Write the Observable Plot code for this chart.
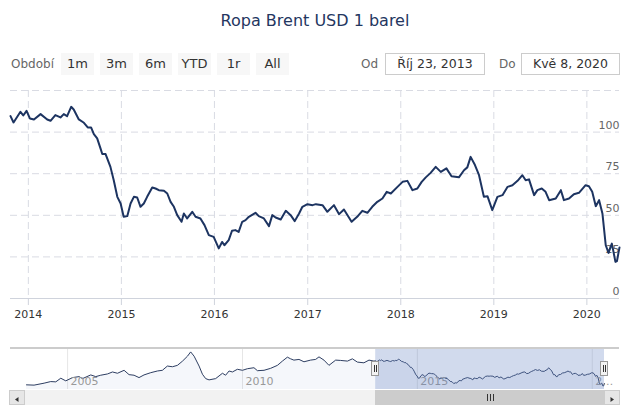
<!DOCTYPE html>
<html><head><meta charset="utf-8">
<script src="https://cdn.jsdelivr.net/npm/d3@7"></script>
<script src="https://cdn.jsdelivr.net/npm/@observablehq/plot@0.6"></script>
<style>
body{margin:0;background:#fff;font-family:"DejaVu Sans",sans-serif;}
#wrap{position:relative;width:630px;height:420px;overflow:hidden;background:#fff;}
.abs{position:absolute;}
#title{left:0;width:630px;top:9px;text-align:center;font-size:16px;color:#24365f;line-height:24px;}
.lbl{font-size:12px;color:#666;line-height:22px;top:53px;}
#btns{left:61px;top:53px;display:flex;gap:6px;}
.btn{width:33px;height:21.5px;background:#f7f7f7;color:#333;font-size:13px;line-height:21.5px;text-align:center;}
.inp{top:53px;height:21.5px;box-sizing:border-box;border:1px solid #ccc;font-size:12.5px;color:#333;line-height:19.5px;text-align:center;}
#mainc{left:0;top:80px;}
#navc{left:0;top:340px;}
#outline{left:10px;top:347px;width:609px;height:1.5px;background:#ccc;}
#track{left:9px;top:389.5px;width:610px;height:15px;background:#f2f2f2;}
.sbtn{top:389.5px;width:16px;height:15px;box-sizing:border-box;border:1px solid #ccc;background:#e6e6e6;}
.thumb{top:389.5px;height:15px;background:#cccccc;}
.grip{position:absolute;top:4px;width:1px;height:7px;background:#333;}
.handle{top:361px;width:8px;height:15px;box-sizing:border-box;border:1px solid #999;background:#f2f2f2;}
.hl{position:absolute;top:3px;width:1px;height:7px;background:#333;}
</style></head><body><div id="wrap"></div>
<script>
const titleText = "Ropa Brent USD 1 barel";
const rangeLabel = "Období";
const rangeButtons = ["1m","3m","6m","YTD","1r","All"];
const fromLabel = "Od", toLabel = "Do";
const fromText = "Říj 23, 2013", toText = "Kvě 8, 2020";

const dates = ["2013-10-23","2013-11-04","2013-12-01","2013-12-12","2013-12-25","2014-01-07","2014-01-23","2014-02-18","2014-03-16","2014-03-29","2014-04-17","2014-05-07","2014-05-20","2014-06-02","2014-06-18","2014-06-28","2014-07-18","2014-08-07","2014-08-22","2014-09-04","2014-09-15","2014-09-28","2014-10-11","2014-10-18","2014-10-31","2014-11-19","2014-12-02","2014-12-16","2014-12-29","2015-01-10","2015-01-24","2015-02-06","2015-02-19","2015-03-04","2015-03-17","2015-03-30","2015-04-12","2015-05-02","2015-05-15","2015-05-28","2015-06-17","2015-06-30","2015-07-13","2015-07-26","2015-08-08","2015-08-25","2015-09-03","2015-09-16","2015-10-06","2015-10-19","2015-11-07","2015-11-23","2015-12-10","2015-12-29","2016-01-18","2016-01-31","2016-02-09","2016-02-26","2016-03-10","2016-03-23","2016-04-05","2016-04-19","2016-05-02","2016-05-15","2016-06-10","2016-06-23","2016-07-13","2016-08-02","2016-08-15","2016-08-28","2016-09-17","2016-10-07","2016-10-26","2016-11-11","2016-11-28","2016-12-11","2016-12-31","2017-01-20","2017-02-02","2017-02-28","2017-03-19","2017-04-14","2017-05-04","2017-05-23","2017-06-22","2017-07-14","2017-08-03","2017-08-23","2017-09-11","2017-10-01","2017-10-21","2017-11-07","2017-11-23","2017-12-19","2018-01-08","2018-01-27","2018-02-16","2018-03-07","2018-03-24","2018-04-09","2018-04-28","2018-05-18","2018-06-07","2018-06-29","2018-07-19","2018-08-17","2018-09-06","2018-09-19","2018-10-02","2018-10-19","2018-11-04","2018-11-23","2018-12-07","2018-12-26","2019-01-15","2019-02-04","2019-02-24","2019-03-15","2019-04-04","2019-04-23","2019-05-06","2019-05-19","2019-06-08","2019-06-21","2019-07-08","2019-07-23","2019-08-06","2019-09-01","2019-09-21","2019-10-03","2019-10-23","2019-11-11","2019-12-01","2019-12-27","2020-01-09","2020-01-22","2020-02-05","2020-02-18","2020-03-02","2020-03-15","2020-03-26","2020-04-03","2020-04-08","2020-04-12","2020-04-22","2020-04-28","2020-05-08"];
const values = [109.6,105.8,112.2,110.0,112.8,108.2,107.6,110.8,107.6,106.8,110.2,108.8,110.8,109.6,115.2,113.6,107.6,105.6,102.8,102.8,98.8,96.2,90.2,86.8,86.8,79.1,71.1,61.1,57.1,49.1,49.5,57.1,61.1,60.7,55.1,57.1,61.1,66.7,66.1,65.1,64.7,63.1,58.1,55.1,50.1,46.1,51.1,48.1,52.1,49.1,48.1,44.1,38.1,37.0,30.1,34.0,32.0,35.1,40.7,41.1,40.0,46.1,47.1,49.1,51.5,49.5,48.1,43.5,50.1,48.7,47.5,52.7,50.1,46.5,51.1,55.1,56.7,56.1,56.7,56.1,52.1,56.1,50.7,53.5,46.1,49.1,52.7,51.5,55.1,58.1,60.1,64.1,63.1,67.1,70.1,70.7,65.1,66.1,70.1,72.8,75.5,79.1,76.1,78.2,73.5,72.8,77.1,78.8,85.1,80.2,74.1,61.1,61.5,53.1,61.1,62.1,67.1,68.1,70.7,74.1,71.1,71.6,62.1,65.1,66.1,64.1,59.1,60.1,65.1,59.1,60.1,62.7,63.5,68.1,67.5,64.1,55.5,59.1,51.1,32.0,27.4,31.0,33.0,30.0,22.0,22.5,30.7];

const histDates = ["2003-10-30","2004-01-17","2004-05-01","2004-07-09","2004-08-31","2004-10-22","2004-12-13","2005-02-22","2005-05-01","2005-06-06","2005-08-31","2005-10-22","2005-12-13","2006-02-22","2006-04-15","2006-06-06","2006-08-14","2006-10-05","2006-11-26","2007-01-17","2007-03-10","2007-05-19","2007-07-28","2007-09-18","2007-11-09","2008-01-01","2008-02-22","2008-04-15","2008-06-06","2008-07-09","2008-08-14","2008-10-05","2008-11-09","2008-12-13","2009-01-17","2009-03-27","2009-06-06","2009-07-09","2009-08-14","2009-09-18","2009-11-09","2010-01-01","2010-02-22","2010-05-01","2010-06-06","2010-08-14","2010-10-22","2011-01-01","2011-02-22","2011-04-15","2011-05-19","2011-06-22","2011-08-14","2011-10-05","2011-12-13","2012-02-04","2012-03-10","2012-05-01","2012-06-22","2012-08-31","2012-10-22","2013-01-01","2013-02-22","2013-04-15","2013-06-22","2013-08-14","2013-10-05"];
const histValues = [26.3,25.3,32.1,37.6,36.6,49.2,40.0,51.3,54.7,47.8,60.5,54.7,59.5,63.9,70.7,66.3,76.5,61.5,59.5,51.3,60.5,68.3,74.1,76.5,91.2,88.8,93.6,108.3,125.3,140.0,125.3,91.2,62.9,47.8,43.4,47.8,66.3,59.5,74.1,70.7,80.0,76.5,82.0,85.4,75.2,76.5,83.3,93.6,108.3,121.9,116.1,111.7,114.1,105.9,111.7,114.1,122.9,111.7,93.6,111.7,110.6,108.3,116.1,104.8,102.4,111.7,108.3];

const yTicks = [0,25,50,75,100];
const yGrid = [25,50,75,100,125];
const yDomain = [0,125];
const yearTicks = [2014,2015,2016,2017,2018,2019,2020];
const navYears = [2005,2010,2015,2020];

const wrap = document.getElementById("wrap");
function el(cls, css, text, parent){const d=document.createElement("div");d.className=cls;if(css)d.style.cssText=css;if(text!=null)d.textContent=text;(parent||wrap).appendChild(d);return d;}

el("abs","",titleText).id="title";
el("abs lbl","left:11px;",rangeLabel);
const btns = el("abs","",null); btns.id="btns";
rangeButtons.forEach(b=>el("btn","",b,btns));
el("abs lbl","left:361px;",fromLabel);
el("abs inp","left:385px;width:100px;",fromText);
el("abs lbl","left:499px;",toLabel);
el("abs inp","left:521px;width:99px;",toText);

const data = dates.map((d,i)=>({date:new Date(d), value:values[i]}));
const xDomain = [data[0].date, data[data.length-1].date];
const yearDates = yearTicks.map(y=>new Date(Date.UTC(y,0,1)));
const grid = {stroke:"#d9dbe3", strokeOpacity:1, strokeDasharray:"7,4"};

const main = Plot.plot({
  width:630, height:240, marginTop:10, marginBottom:22, marginLeft:10, marginRight:11,
  x:{type:"utc", domain:xDomain},
  y:{domain:yDomain},
  style:{fontFamily:"DejaVu Sans", fontSize:"11px", background:"transparent", overflow:"visible"},
  marks:[
    Plot.gridY(yGrid, grid),
    Plot.gridX(yearDates, grid),
    Plot.ruleY([0],{stroke:"#cfd3dc"}),
    Plot.axisX(yearDates,{tickSize:7, tickPadding:5, stroke:"#cfd3dc", fill:"#333", tickFormat:d3.utcFormat("%Y"), fontSize:11, label:null}),
    Plot.axisY(yTicks,{anchor:"right", tickSize:0, tickPadding:0, textAnchor:"end", dy:-7, fill:"#666", fontSize:11, label:null}),
    Plot.line(data,{x:"date", y:"value", stroke:"#1d3461", strokeWidth:2})
  ]
});
const mc = el("abs",null,null); mc.id="mainc"; mc.appendChild(main);

const navData = histDates.map((d,i)=>({date:new Date(d), value:histValues[i]})).concat(data);
const vmin = d3.min(navData,d=>d.value), vmax = d3.max(navData,d=>d.value);
const pad = (vmax-vmin)*0.1;
const navY = [vmin-pad, vmax+pad];
const navYearDates = navYears.map(y=>new Date(Date.UTC(y,0,1)));
const navFmt = d => d.getUTCFullYear()===2020 ? "2…" : String(d.getUTCFullYear());

const nav = Plot.plot({
  width:630, height:50, marginTop:8, marginBottom:1, marginLeft:26, marginRight:26,
  x:{type:"utc", domain:[navData[0].date, xDomain[1]], axis:null},
  y:{domain:navY, axis:null},
  style:{fontFamily:"DejaVu Sans", fontSize:"11px", background:"transparent", overflow:"visible"},
  marks:[
    Plot.gridX(navYearDates,{stroke:"#e6e6e6", strokeOpacity:1}),
    Plot.areaY(navData,{x:"date", y1:navY[0], y2:"value", fill:"#335cad", fillOpacity:0.05}),
    Plot.line(navData,{x:"date", y:"value", stroke:"#2f3f62", strokeWidth:1}),
    Plot.text(navYearDates,{x:d=>d, text:navFmt, frameAnchor:"bottom", textAnchor:"start", lineAnchor:"middle", dx:3, dy:-8, fill:"#999", fontSize:11}),
    Plot.rect([{a:xDomain[0], b:xDomain[1]}],{x1:"a", x2:"b", fill:"rgb(102,133,194)", fillOpacity:0.3})
  ]
});
const nc = el("abs",null,null); nc.id="navc"; nc.appendChild(nav);

el("abs","",null).id="outline";
el("abs","",null).id="track";
const sx = nav.scale("x");
const x0 = sx.apply(xDomain[0]), x1 = sx.apply(xDomain[1]);
const thumb = el("abs thumb",`left:${x0}px;width:${605-x0}px;`,null);
const gc = (605-x0)/2;
[-3,0,3].forEach(o=>el("grip",`left:${gc+o-0.5}px;`,null,thumb));
const lb = el("abs sbtn","left:9px;",null);
const rb = el("abs sbtn","left:604px;",null);
lb.innerHTML='<svg width="14" height="13"><path d="M8.5,4 L5,6.5 L8.5,9 Z" fill="#333"/></svg>';
rb.innerHTML='<svg width="14" height="13"><path d="M5.5,4 L9,6.5 L5.5,9 Z" fill="#333"/></svg>';
[x0,x1].forEach(x=>{const h=el("abs handle",`left:${x-4}px;`,null);el("hl","left:2px;",null,h);el("hl","left:4px;",null,h);});
</script></body></html>
